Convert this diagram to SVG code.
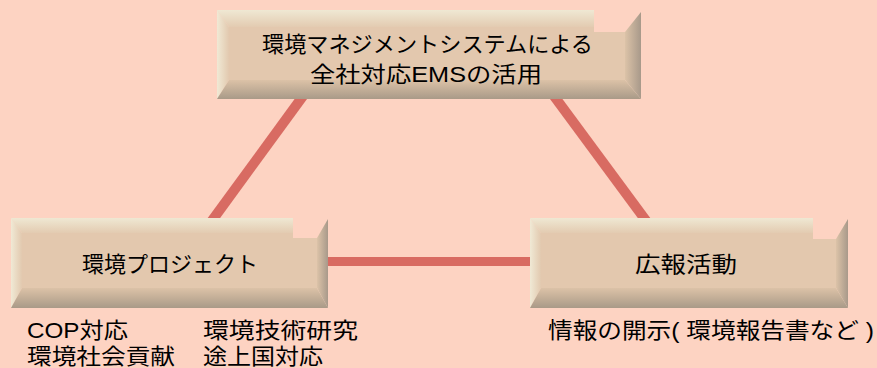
<svg xmlns="http://www.w3.org/2000/svg" width="877" height="368" viewBox="0 0 877 368">
<defs>
<linearGradient id="gTop" x1="0" y1="0" x2="0" y2="1"><stop offset="0" stop-color="#efe8d3"/><stop offset="1" stop-color="#e3cbb1"/></linearGradient>
<linearGradient id="gLeft" x1="0" y1="0" x2="1" y2="0"><stop offset="0" stop-color="#f0e9d5"/><stop offset="1" stop-color="#e2c9af"/></linearGradient>
<linearGradient id="gBot" x1="0" y1="0" x2="0" y2="1"><stop offset="0" stop-color="#dcc2a7"/><stop offset="1" stop-color="#a99a88"/></linearGradient>
<linearGradient id="gRight" x1="0" y1="0" x2="1" y2="0"><stop offset="0" stop-color="#dcc3a8"/><stop offset="1" stop-color="#a8998a"/></linearGradient>
</defs>
<style>
.face{fill:#e3c8ae}
.bt{fill:url(#gTop)}
.bl{fill:url(#gLeft)}
.bb{fill:url(#gBot)}
.br{fill:url(#gRight)}
.conn{stroke:#d86b62;fill:none}
text{font-family:"Liberation Sans","Noto Sans CJK JP",sans-serif;font-size:22px;fill:#000}
</style>
<rect width="877" height="368" fill="#fdd3c2"/>
<g id="connectors">
<line class="conn" x1="303" y1="96" x2="211" y2="222" stroke-width="10"/>
<line class="conn" x1="554" y1="96" x2="647" y2="222" stroke-width="10"/>
<line class="conn" x1="326" y1="261.5" x2="532" y2="261.5" stroke-width="9"/>
</g>
<g id="node-ems">
<polygon class="face" points="229,27 594,27 594,32 625,32 625,80 229,80"/>
<polygon class="bt" points="217,10 594,10 594,27 229,27"/>
<polygon class="bl" points="217,10 229,27 229,80 217,99"/>
<polygon class="bb" points="217,99 229,80 625,80 641,99"/>
<polygon class="br" points="641,12 625,32 625,80 641,99"/>
<text x="427.5" y="52" text-anchor="middle" textLength="331" lengthAdjust="spacingAndGlyphs">環境マネジメントシステムによる</text>
<text x="426" y="82" text-anchor="middle" textLength="232" lengthAdjust="spacingAndGlyphs">全社対応EMSの活用</text>
</g>
<g id="node-project">
<polygon class="face" points="22,233 293,233 293,238 317,238 317,288 22,288"/>
<polygon class="bt" points="11,218 293,218 293,233 22,233"/>
<polygon class="bl" points="11,218 22,233 22,288 11,308"/>
<polygon class="bb" points="11,308 22,288 317,288 328,308"/>
<polygon class="br" points="328,219 317,238 317,288 328,308"/>
<text x="170" y="272" text-anchor="middle" textLength="176" lengthAdjust="spacingAndGlyphs">環境プロジェクト</text>
</g>
<g id="node-pr">
<polygon class="face" points="541,233 813,233 813,239 836,239 836,288 541,288"/>
<polygon class="bt" points="530,218 813,218 813,233 541,233"/>
<polygon class="bl" points="530,218 541,233 541,288 530,308"/>
<polygon class="bb" points="530,308 541,288 836,288 848,308"/>
<polygon class="br" points="848,219 836,239 836,288 848,308"/>
<text x="686" y="272" text-anchor="middle" textLength="102" lengthAdjust="spacingAndGlyphs">広報活動</text>
</g>
<g id="labels">
<text x="27" y="338" textLength="101" lengthAdjust="spacingAndGlyphs">COP対応</text>
<text x="203" y="338" textLength="155" lengthAdjust="spacingAndGlyphs">環境技術研究</text>
<text x="27" y="364" textLength="148" lengthAdjust="spacingAndGlyphs">環境社会貢献</text>
<text x="203" y="364" textLength="120" lengthAdjust="spacingAndGlyphs">途上国対応</text>
<text x="548" y="338" textLength="326" lengthAdjust="spacingAndGlyphs">情報の開示( 環境報告書など )</text>
</g>
</svg>
